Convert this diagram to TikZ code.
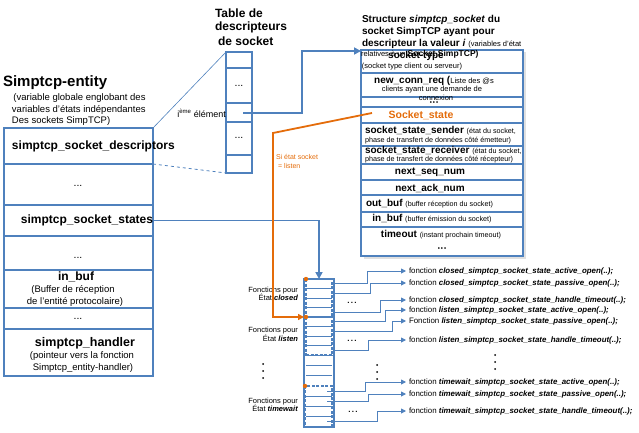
\documentclass[tikz,border=0pt]{standalone}
\usepackage{fontspec}
\setmainfont{Liberation Sans}
\usetikzlibrary{arrows.meta}
\definecolor{myblue}{RGB}{79,129,189}
\definecolor{myorange}{RGB}{228,108,10}
\newcommand{\fsz}[2]{\fontsize{#1}{#2}\selectfont}
\begin{document}
\begin{tikzpicture}[x=1pt,y=-1pt,
  bx/.style={draw=myblue, line width=1.1pt, inner sep=0pt, outer sep=0pt, anchor=north west},
  dbx/.style={draw=myblue, dashed, dash pattern=on 3pt off 1.5pt, line width=1.1pt, inner sep=0pt, outer sep=0pt, anchor=north west},
  txt/.style={inner sep=0pt, outer sep=0pt},
  bigb/.style={txt, font=\bfseries\fsz{12}{14}},
  mid/.style={txt, font=\fsz{9.5}{11.5}},
  dots/.style={txt, font=\fsz{10.5}{12}},
  sb/.style={txt, font=\bfseries\fsz{10}{12}},
  small/.style={txt, font=\fsz{7.2}{8.6}},
  fn/.style={anchor=west, inner sep=3pt, outer sep=0pt, font=\fsz{7.9}{9}},
  bigarr/.style={draw=myblue, line width=1.7pt, -{Triangle[length=7pt,width=7pt]}},
  farr/.style={draw=myblue, line width=0.9pt, -{Triangle[length=5pt,width=5pt]}},
  orarr/.style={draw=myorange, line width=1.8pt, -{Triangle[length=6pt,width=6pt]}},
  rowline/.style={draw=myblue, line width=0.8pt},
  vdot/.style={circle, fill=black, inner sep=0pt, minimum size=2pt}
]
\useasboundingbox (0,0) rectangle (639,433);

% ---------------- Simptcp-entity ----------------
\node[txt, anchor=west, font=\bfseries\fsz{15}{18}] (etitle) at (3,83) {Simptcp-entity};
\node[mid, anchor=west, align=left] (esub) at (12,110) {\hspace{1.5pt}(variable globale englobant des\\variables d’états indépendantes\\Des sockets SimpTCP)};

\node[bx, minimum width=149pt, minimum height=36pt] (e1) at (4,128) {};
\node[bx, minimum width=149pt, minimum height=41pt] (e2) at (4,164) {};
\node[bx, minimum width=149pt, minimum height=31pt] (e3) at (4,205) {};
\node[bx, minimum width=149pt, minimum height=34pt] (e4) at (4,236) {};
\node[bx, minimum width=149pt, minimum height=38pt] (e5) at (4,270) {};
\node[bx, minimum width=149pt, minimum height=21pt] (e6) at (4,308) {};
\node[bx, minimum width=149pt, minimum height=47pt] (e7) at (4,329) {};

\node[bigb, anchor=west] (e1t) at (12,146) {simptcp\_socket\_descriptors};
\node[dots] (e2t) at (78,186) {...};
\node[bigb] (e3t) at (87,220) {simptcp\_socket\_states};
\node[dots] (e4t) at (78,258) {...};
\node[bigb] (e5t) at (76,277) {in\_buf};
\node[mid] (e5a) at (73,289.5) {(Buffer de réception};
\node[mid] (e5b) at (75,301.5) {de l’entité protocolaire)};
\node[dots] (e6t) at (78,319) {...};
\node[txt, font=\bfseries\fsz{12.5}{14}] (e7t) at (85,343) {simptcp\_handler};
\node[mid] (e7a) at (82,356) {(pointeur vers la fonction};
\node[mid] (e7b) at (83,368) {Simptcp\_entity-handler)};

% ---------------- Table de descripteurs ----------------
\node[bigb, anchor=west] (tt1) at (215,13) {Table de};
\node[bigb, anchor=west] (tt2) at (215,27) {descripteurs};
\node[bigb, anchor=west] (tt3) at (218,41) {de socket};

\node[bx, minimum width=26pt, minimum height=16pt] (t1) at (226,52) {};
\node[bx, minimum width=26pt, minimum height=35pt] (t2) at (226,68) {};
\node[bx, minimum width=26pt, minimum height=19pt] (t3) at (226,103) {};
\node[bx, minimum width=26pt, minimum height=33pt] (t4) at (226,122) {};
\node[bx, minimum width=26pt, minimum height=18pt] (t5) at (226,155) {};
\node[dots] (t2t) at (239,86) {...};
\node[dots] (t4t) at (239,138) {...};
\node[txt, anchor=east, font=\fsz{9}{11}] (ielt) at (226,113) {i\textsuperscript{ème} élément};

\draw[myblue, line width=0.6pt] (e1.north east) -- (t1.north west);
\draw[myblue, line width=0.8pt, dashed] (e1.south east) -- (t5.south west);

% ---------------- Structure simptcp_socket ----------------
\fill[black!12] (363.5,52.5) rectangle (525.5,258.5);
\node[bx, fill=white, minimum width=162pt, minimum height=23pt] (s1) at (361,50) {};
\node[bx, fill=white, minimum width=162pt, minimum height=24pt] (s2) at (361,73) {};
\node[bx, fill=white, minimum width=162pt, minimum height=10pt] (s3) at (361,97) {};
\node[bx, fill=white, minimum width=162pt, minimum height=16pt] (s4) at (361,107) {};
\node[bx, fill=white, minimum width=162pt, minimum height=23pt] (s5) at (361,123) {};
\node[bx, fill=white, minimum width=162pt, minimum height=18pt] (s6) at (361,146) {};
\node[bx, fill=white, minimum width=162pt, minimum height=16pt] (s7) at (361,164) {};
\node[bx, fill=white, minimum width=162pt, minimum height=15pt] (s8) at (361,180) {};
\node[bx, fill=white, minimum width=162pt, minimum height=17pt] (s9) at (361,195) {};
\node[bx, fill=white, minimum width=162pt, minimum height=15pt] (s10) at (361,212) {};
\node[bx, fill=white, minimum width=162pt, minimum height=29pt] (s11) at (361,227) {};

\node[txt, anchor=west, font=\bfseries\fsz{10}{12}] (st1) at (362,20) {Structure \textit{simptcp\_socket} du};
\node[txt, anchor=west, font=\bfseries\fsz{10}{12}] (st2) at (362,32) {socket SimpTCP ayant pour};
\node[txt, anchor=west, font=\bfseries\fsz{10}{12}] (st3) at (362,44) {descripteur la valeur \textit{i} {\mdseries\fsz{7.5}{9}(variables d’état}};
\node[txt, anchor=west, font=\fsz{7.5}{9}] (st4) at (361,54) {relatives à un {\bfseries\fsz{8.5}{10}Socket SimpTCP)}};

\node[sb] (s1t) at (416,56) {socket-type};
\node[txt, font=\fsz{7.5}{9}] (s1a) at (412,66.5) {(socket type client ou serveur)};
\node[sb] (s2t) at (434,81) {new\_conn\_req ({\mdseries\fsz{7.5}{9}Liste des @s}};
\node[txt, font=\fsz{7.5}{9}] (s2a) at (432,90) {clients ayant une demande de};
\node[txt, font=\fsz{7.5}{9}] (s2b) at (436,98) {connexion};
\node[txt, font=\bfseries\fsz{6}{7}] (s3t) at (434,103.5) {\textbullet\,\textbullet\,\textbullet};
\node[txt, font=\bfseries\fsz{10.5}{12}, text=myorange] (s4t) at (421,115) {Socket\_state};
\node[sb, anchor=west] (s5t) at (365,131) {socket\_state\_sender {\mdseries\fsz{7.2}{8.6}(état du socket,}};
\node[small, anchor=west] (s5a) at (365,141) {phase de transfert de données côté émetteur)};
\node[sb, anchor=west] (s6t) at (365,150.5) {socket\_state\_receiver {\mdseries\fsz{7.2}{8.6}(état du socket,}};
\node[small, anchor=west] (s6a) at (365,160) {phase de transfert de données côté récepteur)};
\node[sb] (s7t) at (430,172) {next\_seq\_num};
\node[sb] (s8t) at (430,188) {next\_ack\_num};
\node[sb, anchor=west] (s9t) at (366,204) {out\_buf {\mdseries\fsz{7.2}{8.6}(buffer réception du socket)}};
\node[sb] (s10t) at (432,219) {in\_buf {\mdseries\fsz{7.2}{8.6}(buffer émission du socket)}};
\node[sb] (s11t) at (441,235) {timeout {\mdseries\fsz{7.2}{8.6}(instant prochain timeout)}};
\node[txt, font=\bfseries\fsz{6}{7}] (s11d) at (442,249.5) {\textbullet\,\textbullet\,\textbullet};

% ---------------- function array ----------------
\node[bx, minimum width=30pt, minimum height=148pt] (fa) at (304,279) {};
\foreach \yy in {288.5,298,307.5,326.5,336,345.5,365.3,375.7,396.25,406.5,416.75}
  \draw[rowline] (306,\yy) -- (332,\yy);
\draw[rowline] (304,355) -- (334,355);
\node[dbx, minimum width=26pt, minimum height=38pt] (cg) at (306,279) {};
\node[dbx, minimum width=26pt, minimum height=38pt] (lg) at (306,317) {};
\node[dbx, minimum width=27pt, minimum height=41pt] (tg) at (305,386) {};

\node[txt, anchor=east, align=right, font=\fsz{7.5}{8.5}] (lc) at (298,294) {Fonctions pour\\État \textbf{\textit{closed}}};
\node[txt, anchor=east, align=right, font=\fsz{7.5}{8.5}] (ll) at (298,334.5) {Fonctions pour\\État \textbf{\textit{listen}}};
\node[txt, anchor=east, align=right, font=\fsz{7.5}{8.5}] (lt) at (298,405) {Fonctions pour\\État \textbf{\textit{timewait}}};

\foreach \xx/\yy in {263/364, 377/365, 495/355}{
  \node[vdot] at (\xx,\yy) {};
  \node[vdot] at (\xx,\yy+7) {};
  \node[vdot] at (\xx,\yy+14) {};
}
\node[txt, font=\bfseries\fsz{8}{9}] (d1) at (352,303) {.\,.\,.};
\node[txt, font=\bfseries\fsz{8}{9}] (d2) at (352,341) {.\,.\,.};
\node[txt, font=\bfseries\fsz{8}{9}] (d3) at (353,412) {.\,.\,.};

% function texts
\node[fn] (f1) at (406,271) {fonction \textbf{\textit{closed\_simptcp\_socket\_state\_active\_open(..);}}};
\node[fn] (f2) at (406,283) {fonction \textbf{\textit{closed\_simptcp\_socket\_state\_passive\_open(..);}}};
\node[fn] (f3) at (406,300) {fonction \textbf{\textit{closed\_simptcp\_socket\_state\_handle\_timeout(..);}}};
\node[fn] (f4) at (406,310) {fonction \textbf{\textit{listen\_simptcp\_socket\_state\_active\_open(..);}}};
\node[fn] (f5) at (406,321) {Fonction \textbf{\textit{listen\_simptcp\_socket\_state\_passive\_open(..);}}};
\node[fn] (f6) at (406,340) {fonction \textbf{\textit{listen\_simptcp\_socket\_state\_handle\_timeout(..);}}};
\node[fn] (f7) at (406,382) {fonction \textbf{\textit{timewait\_simptcp\_socket\_state\_active\_open(..);}}};
\node[fn] (f8) at (406,394) {fonction \textbf{\textit{timewait\_simptcp\_socket\_state\_passive\_open(..);}}};
\node[fn] (f9) at (406,411) {fonction \textbf{\textit{timewait\_simptcp\_socket\_state\_handle\_timeout(..);}}};

% arrow start coordinates
\coordinate (a1) at (334,283.75);
\coordinate (a2) at (334,293.25);
\coordinate (a3) at (334,312.25);
\coordinate (a4) at (334,321.75);
\coordinate (a5) at (334,331.25);
\coordinate (a6) at (334,350.25);
\coordinate (a7) at (327,391.1);
\coordinate (a8) at (327,401.4);
\coordinate (a9) at (327,421.9);
\draw[farr] (a1) -- ++(33,0) |- (f1.west);
\draw[farr] (a2) -- ++(36,0) |- (f2.west);
\draw[farr] (a3) -- ++(46,0) |- (f3.west);
\draw[farr] (a4) -- ++(51,0) |- (f4.west);
\draw[farr] (a5) -- ++(58,0) |- (f5.west);
\draw[farr] (a6) -- ++(34,0) |- (f6.west);
\draw[farr] (a7) -- ++(38,0) |- (f7.west);
\draw[farr] (a8) -- ++(41,0) |- (f8.west);
\draw[farr] (a9) -- ++(50,0) |- (f9.west);

% ---------------- main connectors ----------------
\coordinate (ie) at (243,113);
\draw[bigarr] (ie) -- (302,113) |- ([yshift=-1pt]s1.north west);
\draw[bigarr] (e3.east) -| (fa.north);

\coordinate (ss) at (372,113);
\draw[orarr] (ss) -- (273,133) |- ([xshift=-2pt]lg.north west);
\node[txt, anchor=west, text=myorange, font=\fsz{7}{8}] (ol1) at (276,157) {Si état socket};
\node[txt, anchor=west, text=myorange, font=\fsz{7}{8}] (ol2) at (278,166) {= listen};

\fill[myorange] (cg.north west) circle (2.2pt);
\fill[myorange] (lg.north west) circle (2.2pt);
\fill[myorange] (tg.north west) circle (2.2pt);
\end{tikzpicture}
\end{document}
